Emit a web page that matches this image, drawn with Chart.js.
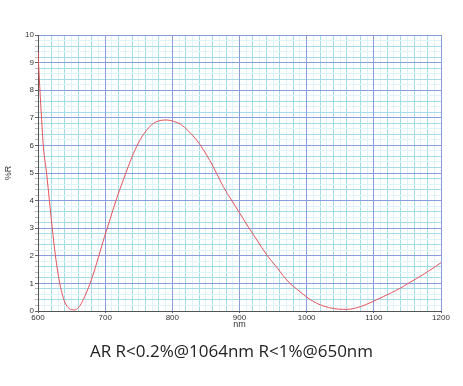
<!DOCTYPE html>
<html>
<head>
<meta charset="utf-8">
<script src="https://cdn.jsdelivr.net/npm/chart.js@4"></script>
<style>
  html, body { margin: 0; padding: 0; background: #fff; }
  #wrap { position: relative; width: 463px; height: 386px; }
  #caption {
    position: absolute; left: 0; top: 339px; width: 463px;
    text-align: center; font: 17px "Open Sans", sans-serif; color: #222;
  }
</style>
</head>
<body>
<div id="wrap">
  <canvas id="chart" width="463" height="386"></canvas>
  <div id="caption">AR R&lt;0.2%@1064nm R&lt;1%@650nm</div>
</div>
<script>
// wavelength (nm) and reflectance (%R)
const wavelengths = [600, 602, 605, 608, 613, 617, 621, 626, 632, 639, 645, 650, 655, 660, 666, 673, 681, 690,
    699, 707, 716, 727, 742, 752, 762, 772, 782, 792, 802, 812, 824, 836, 846, 856, 866, 876, 888, 901,
    913, 926, 940, 955, 965, 975, 985, 995, 1005, 1015, 1025, 1040, 1055, 1065, 1075, 1089, 1100, 1114,
    1126, 1139, 1151, 1164, 1176, 1188, 1200];
const reflectance = [9.4, 8.4, 7.1, 5.95, 4.95, 4.0, 3.05, 2.0, 1.05, 0.38, 0.12, 0.05, 0.04, 0.12, 0.34, 0.72, 1.24, 1.95,
    2.69, 3.3, 4.0, 4.75, 5.7, 6.2, 6.56, 6.8, 6.9, 6.92, 6.87, 6.77, 6.52, 6.2, 5.85, 5.45, 4.98, 4.5, 4.02, 3.52,
    3.05, 2.57, 2.05, 1.6, 1.28, 1.0, 0.8, 0.6, 0.42, 0.28, 0.18, 0.09, 0.06, 0.07, 0.12, 0.24, 0.36, 0.52,
    0.66, 0.82, 1.0, 1.18, 1.36, 1.55, 1.75];

const xLabels = [600, 700, 800, 900, 1000, 1100, 1200];
const yLabels = [0, 1, 2, 3, 4, 5, 6, 7, 8, 9, 10];

const MAJOR = '#8a9edc';
const MID = '#a3dbe9';
const LIGHT = '#e0f3f8';
const tickFont = { family: 'Liberation Sans, Arial, sans-serif', size: 8 };
const titleFont = { family: 'Liberation Sans, Arial, sans-serif', size: 9 };

const points = wavelengths.map((w, i) => ({ x: w, y: reflectance[i] }));

// hidden scale that only draws the 100 nm / 1 %R lines above the fine grid
function majorScale(pos, min, max, step) {
    return {
        type: 'linear', position: pos, min: min, max: max,
        afterFit: (s) => { if (s.isHorizontal()) s.height = 0; else s.width = 0; },
        ticks: { display: false, stepSize: step, autoSkip: false },
        grid: { color: MAJOR, drawTicks: false, z: -1 },
        border: { display: false }
    };
}

new Chart(document.getElementById('chart'), {
    type: 'line',
    data: {
        datasets: [{
            data: points,
            borderColor: '#e5525a',
            borderWidth: 1,
            pointRadius: 0,
            cubicInterpolationMode: 'monotone',
            fill: false
        }]
    },
    options: {
        responsive: false,
        animation: false,
        layout: { padding: { top: 35, right: 22, left: 0, bottom: 53 } },
        plugins: { legend: { display: false }, tooltip: { enabled: false } },
        scales: {
            x: {
                type: 'linear',
                min: 600,
                max: 1200,
                afterFit: (s) => { s.height = 22; },
                ticks: {
                    stepSize: 10,
                    autoSkip: false,
                    maxRotation: 0,
                    padding: 0,
                    color: '#333',
                    font: tickFont,
                    callback: (v) => xLabels.includes(Math.round(v)) ? Math.round(v) : ''
                },
                grid: {
                    z: -2,
                    tickLength: 2,
                    color: (c) => Math.round(c.tick.value) % 20 === 0 ? MID : LIGHT,
                    tickColor: (c) => Math.round(c.tick.value) % 100 === 0 ? '#666' : 'rgba(0,0,0,0)'
                },
                border: { color: '#555', width: 1 },
                title: { display: true, text: 'nm', color: '#333', font: titleFont, padding: { top: 0, bottom: 3 } }
            },
            y: {
                min: 0,
                max: 10,
                afterFit: (s) => { s.width = 38; },
                ticks: {
                    stepSize: 0.2,
                    autoSkip: false,
                    padding: 1,
                    color: '#333',
                    font: tickFont,
                    callback: (v) => {
                        const r = Math.round(v * 10) / 10;
                        return yLabels.includes(r) ? r : '';
                    }
                },
                grid: {
                    z: -2,
                    tickLength: 3,
                    color: (c) => Math.round(c.tick.value * 5) % 2 === 0 ? MID : LIGHT,
                    tickColor: (c) => Math.round(c.tick.value * 5) % 5 === 0 ? '#666' : '#bbb'
                },
                border: { color: '#555', width: 1 },
                title: { display: true, text: '%R', color: '#333', font: titleFont, padding: { top: 3, bottom: 0 } }
            },
            xMajor: majorScale('bottom', 600, 1200, 100),
            yMajor: majorScale('left', 0, 10, 1)
        }
    }
});
</script>
</body>
</html>
